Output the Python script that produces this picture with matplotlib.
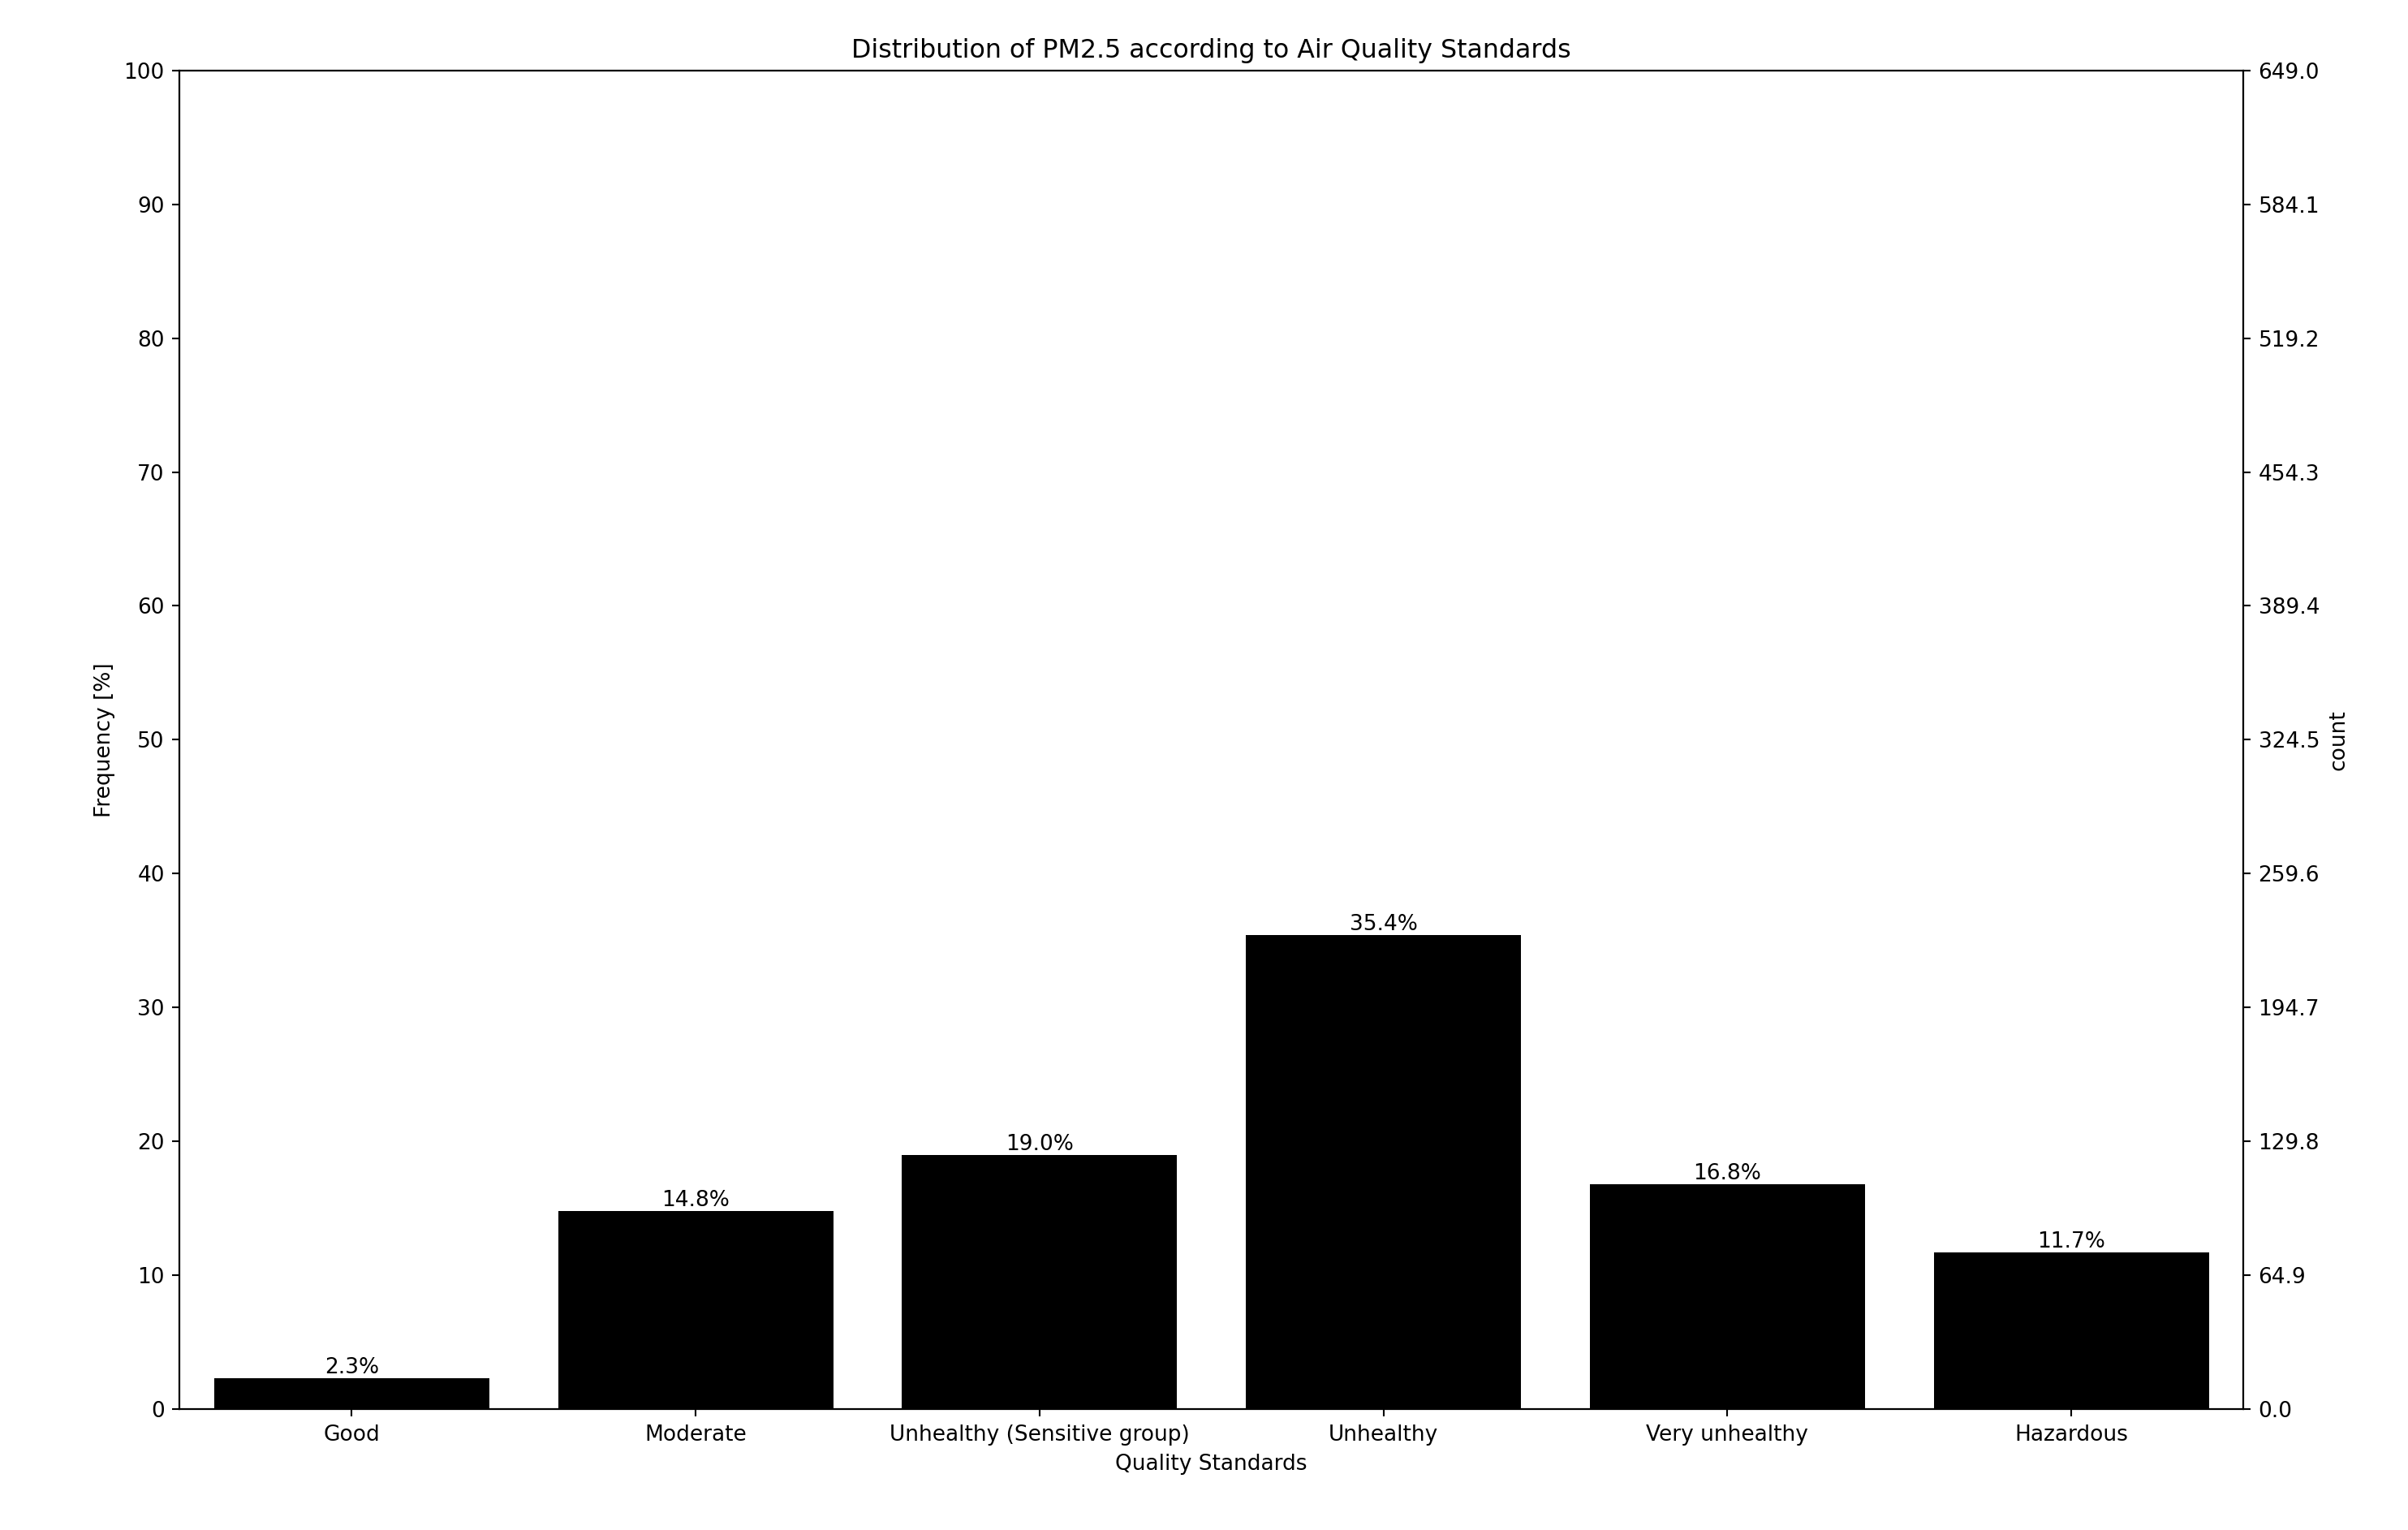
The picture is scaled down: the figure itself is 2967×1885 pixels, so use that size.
import matplotlib
matplotlib.use("Agg")
import matplotlib.pyplot as plt
import numpy as np

categories = ["Good", "Moderate", "Unhealthy (Sensitive group)", "Unhealthy", "Very unhealthy", "Hazardous"]
counts = [15, 96, 123, 230, 109, 76]
total = sum(counts)

fig = plt.figure(figsize=(2967/190, 1885/190), dpi=190)
ax = fig.add_axes([0.0746, 0.079, 0.857, 0.875])
ax2 = ax.twinx()
x = np.arange(len(categories))
ax2.bar(x, counts, width=0.8, color="black")
ax2.set_ylim(0, total)
ax2.set_yticks(np.linspace(0, total, 11))
ax2.set_yticklabels([f"{v:.1f}" for v in np.linspace(0, total, 11)])
ax2.set_ylabel("count")
ax.set_xlim(-0.5, len(categories) - 0.5)
ax.set_ylim(0, 100)
ax.set_yticks(range(0, 101, 10))
ax.set_xticks(x)
ax.set_xticklabels(categories)
ax.set_ylabel("Frequency [%]")
ax.set_xlabel("Quality Standards")
ax.set_title("Distribution of PM2.5 according to Air Quality Standards")
for xi, c in zip(x, counts):
    ax2.annotate(f"{100*c/total:.1f}%", (xi, c), ha="center", va="bottom")
fig.savefig("out.png", dpi=190)
